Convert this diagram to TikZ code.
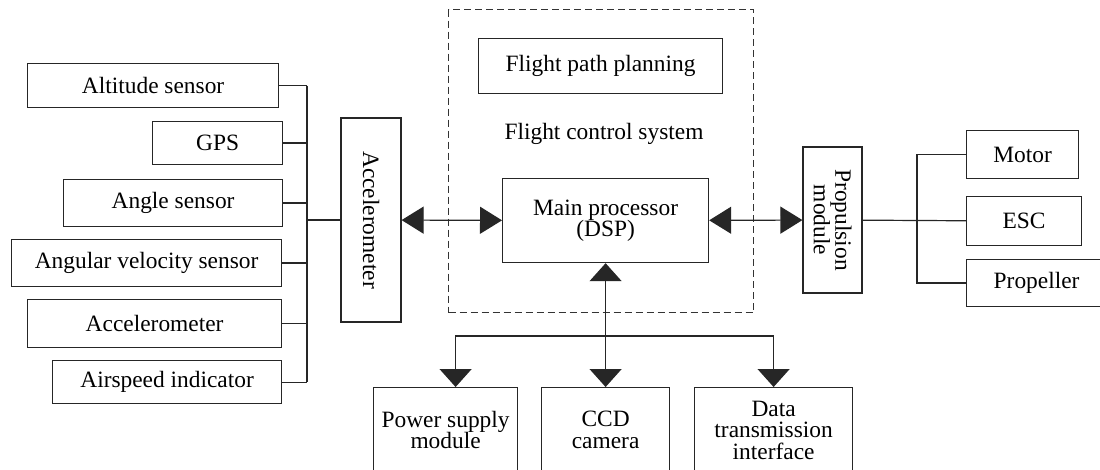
\documentclass[tikz,border=0pt]{standalone}
\usepackage{fontspec}
\setmainfont{Liberation Serif}
\newfontfamily\tnr{Liberation Serif}
\usetikzlibrary{arrows.meta}
\lineskiplimit=-100pt
\begin{document}
\begin{tikzpicture}[x=1pt,y=-1pt,
  box/.style={draw=black!85, line width=1.2pt, inner sep=0pt, align=center,
    font=\tnr\fontsize{23.4}{21.5}\selectfont, anchor=north west},
  txt/.style={inner sep=0pt, align=center, font=\tnr\fontsize{23.4}{21.5}\selectfont},
  link/.style={draw=black!85, line width=1.2pt},
  harr/.style={link, {Triangle[length=22pt,width=27pt]}-{Triangle[length=22pt,width=27pt]}},
  varr/.style={link, -{Triangle[length=18pt,width=32pt]}},
  vdarr/.style={link, {Triangle[length=18pt,width=32pt]}-{Triangle[length=18pt,width=32pt]}}]
\useasboundingbox (0,0) rectangle (1100,470);
\clip (0,0) rectangle (1100,470);
\fill[white] (0,0) rectangle (1100,470);

% left sensors
\node[box, minimum width=251, minimum height=44] (alt) at (27,63) {Altitude sensor};
\node[box, minimum width=130, minimum height=43] (gps) at (152,121) {GPS};
\node[box, minimum width=219, minimum height=47] (ang) at (63,179) {Angle sensor};
\node[box, minimum width=270, minimum height=47] (avs) at (11,239) {Angular velocity sensor};
\node[box, minimum width=254, minimum height=48] (acs) at (27,299) {Accelerometer};
\node[box, minimum width=229, minimum height=43] (air) at (52,360) {Airspeed indicator};
\coordinate (lb) at (307,220);

\node[box, anchor=center, rotate=-90, minimum width=204, minimum height=60] (acc) at (371,220) {Accelerometer};

% flight control system
\node[draw=black!80, line width=1.1pt, dash pattern=on 7pt off 4pt, inner sep=0pt,
  minimum width=305, minimum height=303, anchor=north west] (fcs) at (448,9) {};
\node[box, minimum width=244, minimum height=55] (fpp) at (478,38) {Flight path planning};
\node[txt] (fcl) at (604,134) {Flight control system};
\node[box, minimum width=206, minimum height=84] (mp) at (502,178) {Main processor\\(DSP)};

% propulsion
\node[box, anchor=center, rotate=-90, minimum width=146, minimum height=59] (prop) at (832.5,220) {Propulsion\\module};
\coordinate (rb) at (917,220);
\node[box, minimum width=112, minimum height=48] (mot) at (966,130) {Motor};
\node[box, minimum width=115, minimum height=49] (esc) at (966,196) {ESC};
\node[box, minimum width=140, minimum height=47] (prp) at (966,259) {Propeller};

% bottom modules
\coordinate (bj) at (605,336);
\node[box, minimum width=144, minimum height=85] (psm) at (373,387) {Power supply\\module};
\node[box, minimum width=128, minimum height=85] (ccd) at (541,387) {CCD\\camera};
\node[box, minimum width=158, minimum height=85] (dti) at (694,387) {Data\\transmission\\interface};

% left bus
\foreach \n in {alt,gps,ang,avs,acs,air}{
  \draw[link] (\n.east) -- (\n.east -| lb);
}
\draw[link] (alt.east -| lb) -- (air.east -| lb);
\draw[link] (lb) -- (acc);

% arrows
\draw[harr] (acc) -- (mp);
\draw[harr] (mp) -- (prop);

% right bus
\draw[link] (prop) -- (esc);
\draw[link] (mot.west) -| (rb) |- (prp.west);

% bottom arrows
\draw[vdarr] (mp.south) -- (mp.south |- ccd.north);
\draw[varr] (bj) -| ([xshift=10pt]psm.north);
\draw[varr] (bj) -| (dti.north);
\end{tikzpicture}
\end{document}
